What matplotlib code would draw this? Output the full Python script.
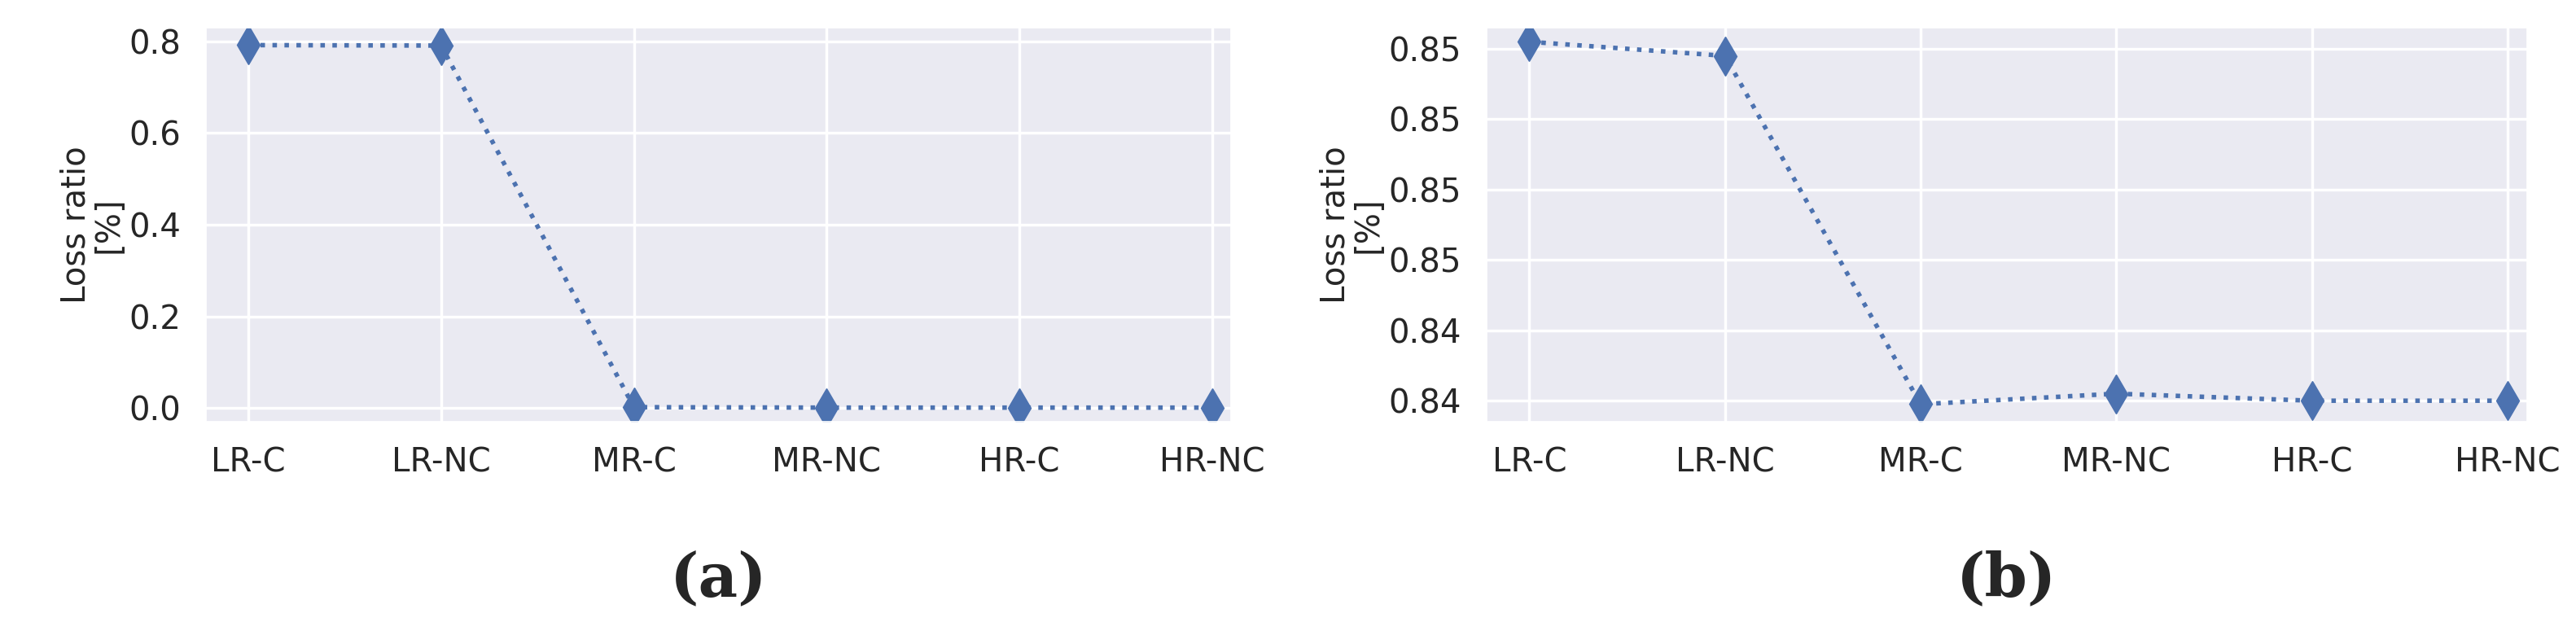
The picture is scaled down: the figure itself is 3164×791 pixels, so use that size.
import numpy as np
import matplotlib
matplotlib.use("Agg")
import matplotlib.pyplot as plt
from matplotlib.ticker import FormatStrFormatter
import seaborn as sns

sns.set_theme(style="darkgrid")
plt.rcParams["grid.linewidth"] = 2.5

categories = ["LR-C", "LR-NC", "MR-C", "MR-NC", "HR-C", "HR-NC"]
loss_a = [0.792, 0.791, 0.002, 0.001, 0.001, 0.001]
loss_b = [0.8522, 0.8518, 0.8419, 0.8422, 0.8420, 0.8420]
ticks_a = [0.0, 0.2, 0.4, 0.6, 0.8]
ticks_b = [0.842, 0.844, 0.846, 0.848, 0.850, 0.852]

fig = plt.figure(figsize=(31.64, 7.91), dpi=100)
ax_a = fig.add_axes([0.080, 0.345, 0.398, 0.612])
ax_b = fig.add_axes([0.577, 0.345, 0.404, 0.612])

for ax, vals, ticks, fmt, lab in [(ax_a, loss_a, ticks_a, "%.1f", "(a)"),
                                  (ax_b, loss_b, ticks_b, "%.2f", "(b)")]:
    x = np.arange(len(categories))
    ax.plot(x, vals, linestyle=":", marker="d", markersize=24,
            linewidth=4, color="#4c72b0")
    ax.set_xticks(x)
    ax.set_xticklabels(categories)
    ax.set_yticks(ticks)
    ax.yaxis.set_major_formatter(FormatStrFormatter(fmt))
    ax.tick_params(labelsize=29, pad=16)
    ax.set_ylabel("Loss ratio\n[%]", fontsize=29, linespacing=1.0)
    ax.set_xlim(-0.22, 5.1)
    pos = ax.get_position()
    fig.text(pos.x0 + pos.width / 2, 0.1, lab, ha="center", va="center",
             fontsize=54, fontweight="bold", family="DejaVu Serif")

ax_a.set_ylim(-0.03, 0.83)
ax_b.set_ylim(0.8414, 0.8526)

fig.savefig("out.png")
